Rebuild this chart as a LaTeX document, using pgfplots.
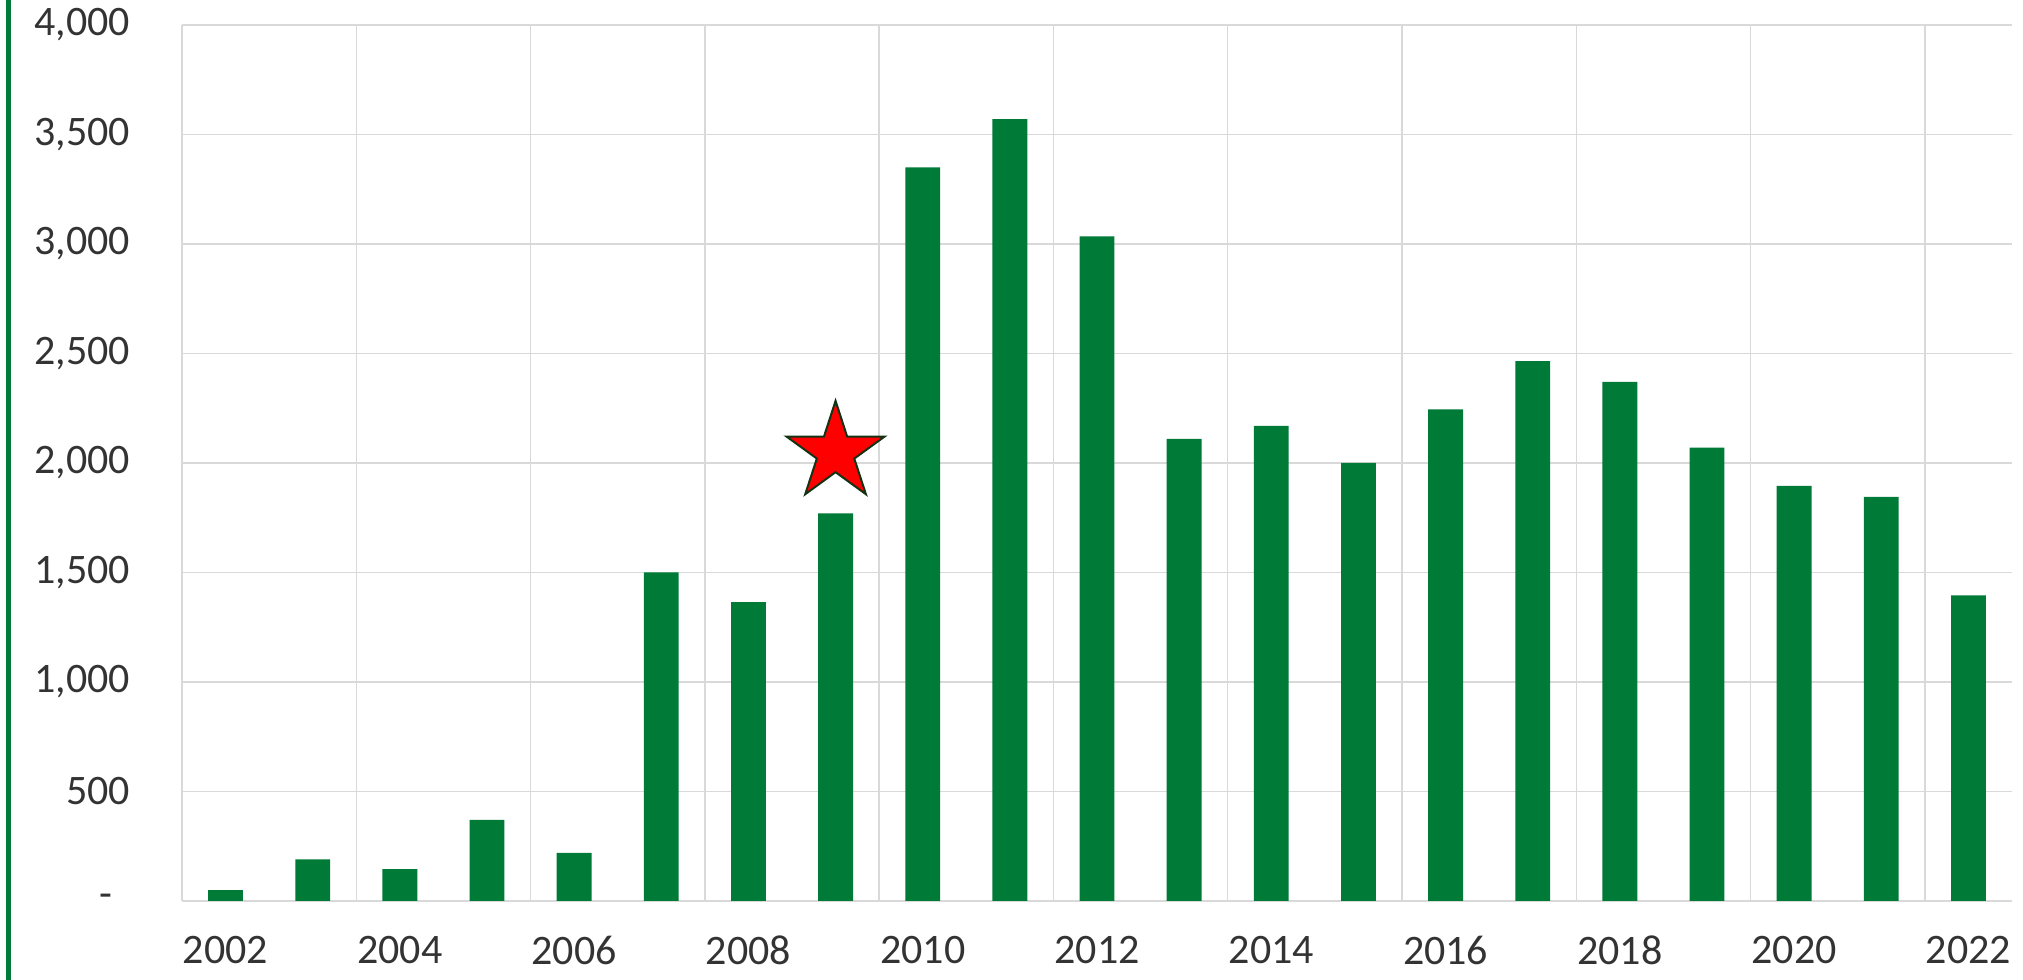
\documentclass[border=0pt]{standalone}
\usepackage{pgfplots}
\pgfplotsset{compat=1.18}
\usepackage{fontspec}
\setmainfont{Carlito}
\definecolor{barg}{RGB}{0,122,55}
\definecolor{gridg}{RGB}{217,217,217}
\definecolor{txt}{RGB}{51,51,51}
\definecolor{stardk}{RGB}{20,50,20}
\pgfdeclareplotmark{fstar}{%
  \pgfpathmoveto{\pgfqpoint{0pt}{\pgfplotmarksize}}%
  \pgfpathlineto{\pgfqpoint{-0.2245\pgfplotmarksize}{0.309\pgfplotmarksize}}%
  \pgfpathlineto{\pgfqpoint{-0.951\pgfplotmarksize}{0.309\pgfplotmarksize}}%
  \pgfpathlineto{\pgfqpoint{-0.363\pgfplotmarksize}{-0.118\pgfplotmarksize}}%
  \pgfpathlineto{\pgfqpoint{-0.588\pgfplotmarksize}{-0.809\pgfplotmarksize}}%
  \pgfpathlineto{\pgfqpoint{0pt}{-0.382\pgfplotmarksize}}%
  \pgfpathlineto{\pgfqpoint{0.588\pgfplotmarksize}{-0.809\pgfplotmarksize}}%
  \pgfpathlineto{\pgfqpoint{0.363\pgfplotmarksize}{-0.118\pgfplotmarksize}}%
  \pgfpathlineto{\pgfqpoint{0.951\pgfplotmarksize}{0.309\pgfplotmarksize}}%
  \pgfpathlineto{\pgfqpoint{0.2245\pgfplotmarksize}{0.309\pgfplotmarksize}}%
  \pgfpathclose
  \pgfusepathqfillstroke
}
\begin{document}
\begin{tikzpicture}
\begin{axis}[
  scale only axis,
  width=457.5pt, height=219pt,
  xmin=-0.5, xmax=20.5, ymin=0, ymax=4000,
  clip=false,
  axis line style={draw=none},
  major tick length=0pt, minor tick length=0pt,
  tick style={draw=none},
  ytick={0,500,...,4000},
  yticklabels={{-\hspace*{4.5pt}},500,{1,000},{1,500},{2,000},{2,500},{3,000},{3,500},{4,000}},
  xtick={0,2,...,20},
  xticklabels={2002,2004,2006,2008,2010,2012,2014,2016,2018,2020,2022},
  minor xtick={-0.5,1.5,...,19.5},
  xminorgrids, ymajorgrids,
  major grid style={gridg, line width=0.35pt},
  minor grid style={gridg, line width=0.35pt},
  ticklabel style={font=\fontsize{10.5pt}{12pt}\selectfont, text=txt, inner sep=0pt},
  yticklabel style={anchor=east, xshift=-12.75pt},
  xticklabel style={anchor=center, yshift=-12.25pt},
]
\addplot[ybar, bar width=0.4, fill=barg, draw=none] coordinates {
  (0,50) (1,190) (2,145) (3,370) (4,220) (5,1500) (6,1365) (7,1770)
  (8,3350) (9,3570) (10,3035) (11,2110) (12,2170) (13,2000) (14,2245)
  (15,2465) (16,2370) (17,2070) (18,1895) (19,1845) (20,1395)
};
\addplot[only marks, mark=fstar, mark size=12.9pt,
  mark options={fill=red, draw=stardk, line width=0.5pt}] coordinates {(7,2048)};
\draw[overlay, barg, line width=1.25pt] ([shift={(-43.45pt,-19.75pt)}]rel axis cs:0,0) -- ([shift={(-43.45pt,6.25pt)}]rel axis cs:0,1);
\path ([shift={(-45.5pt,-19.75pt)}]rel axis cs:0,0) rectangle ([shift={(2.75pt,6.25pt)}]rel axis cs:1,1);
\end{axis}
\end{tikzpicture}
\end{document}
